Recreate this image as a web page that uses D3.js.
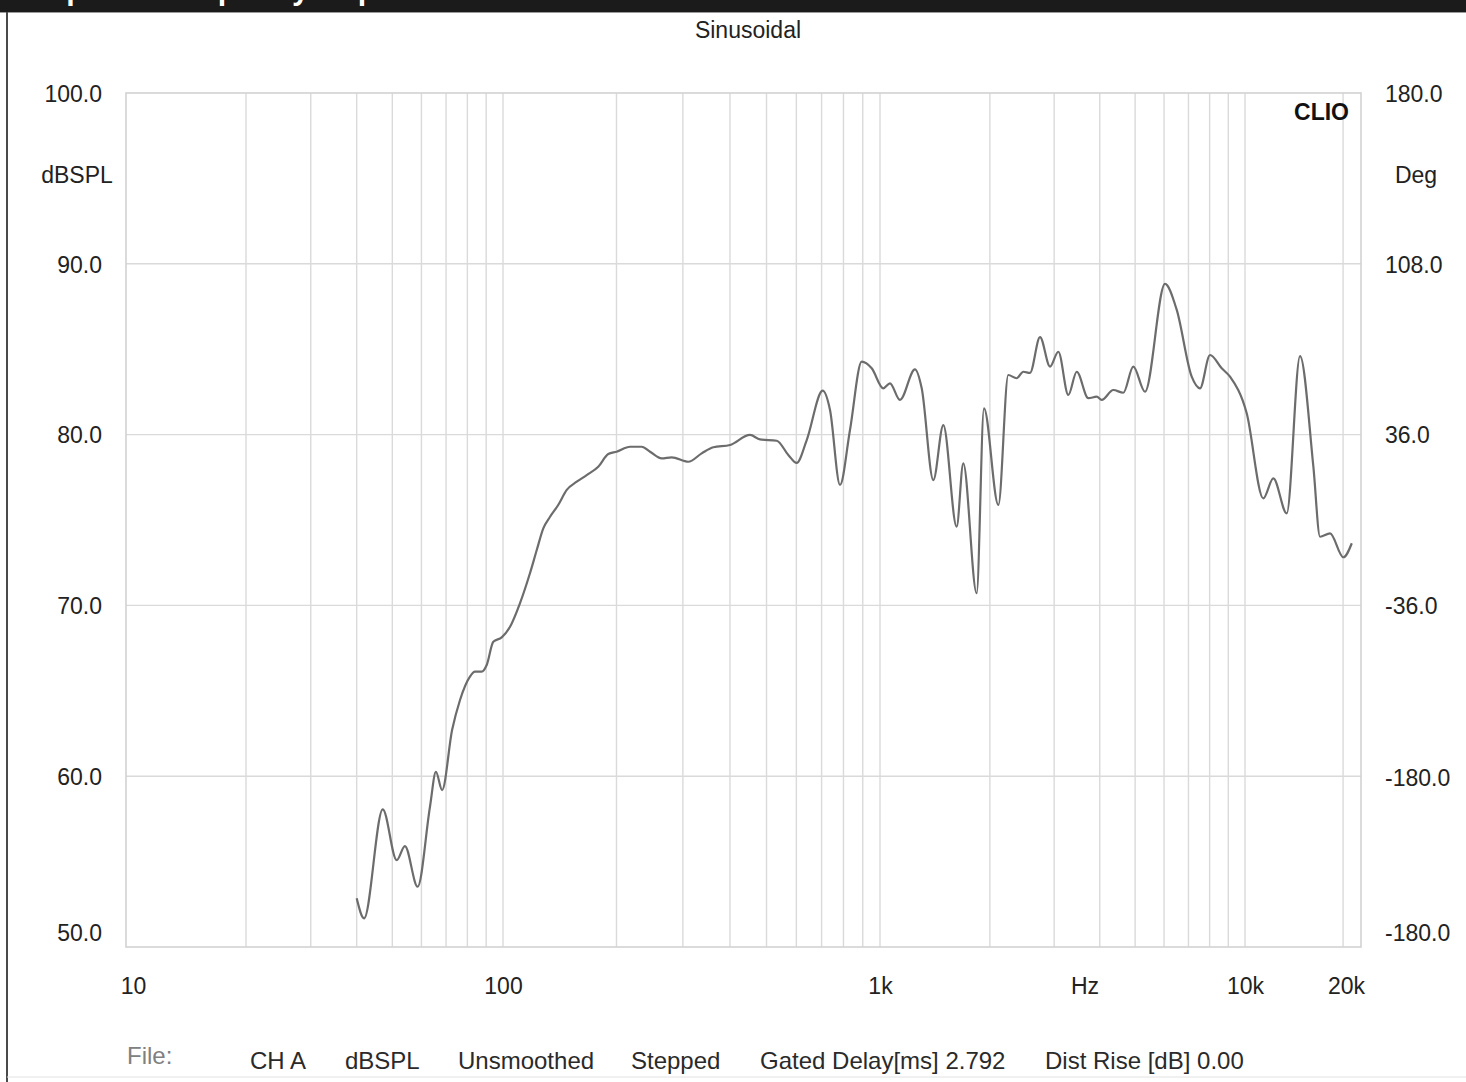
<!DOCTYPE html>
<html>
<head>
<meta charset="utf-8">
<script src="https://cdn.jsdelivr.net/npm/d3@7"></script>
<style>
  html, body { margin: 0; padding: 0; background: #fff; }
  svg { display: block; }
  text { font-family: "Liberation Sans", Arial, sans-serif; fill: #222; }
</style>
</head>
<body>
<svg id="chart" width="1466" height="1082"></svg>
<script>
// ---------------- data ----------------
const freqHz = [40.0, 41.9, 47.1, 51.4, 54.1, 58.6, 63.3, 65.7, 68.3, 72.7, 76.4, 81.3, 83.9, 87.5, 90.3, 94.1, 99.2,
  104.4, 110.9, 117.9, 122.9, 127.9, 133.3, 140.1, 147.6, 156.9, 166.7, 178.9, 190.2, 200.2, 217.3, 233.3, 245.5,
  263.6, 280.2, 310.1, 336.5, 361.3, 400.0, 452.0, 480.5, 532.1, 571.2, 601.2, 639.2, 704.7, 736.9, 783.3, 832.5,
  894.3, 950.6, 1021, 1065, 1134, 1247, 1301, 1400, 1491, 1622, 1691, 1840, 1927, 2110, 2246, 2368, 2470, 2576,
  2744, 2923, 3080, 3281, 3459, 3722, 3924, 4049, 4357, 4641, 4943, 5321, 6037, 6501, 7145, 7527, 8020, 8634,
  9098, 10121, 11382, 12217, 13429, 14753, 16212, 16995, 18241, 20044, 21270];
const splDb = [52.85, 51.68, 58.06, 55.09, 55.91, 53.53, 58.21, 60.25, 59.19, 62.70, 64.46, 65.83, 66.12, 66.12, 66.51, 67.87, 68.13,
  68.75, 70.12, 71.88, 73.24, 74.51, 75.19, 75.88, 76.76, 77.24, 77.63, 78.12, 78.86, 79.00, 79.29, 79.29, 79.00,
  78.61, 78.67, 78.41, 78.90, 79.26, 79.39, 79.98, 79.72, 79.64, 78.81, 78.34, 79.68, 82.57, 81.44, 77.05, 80.27,
  84.27, 83.88, 82.71, 83.00, 82.03, 83.82, 82.71, 77.34, 80.56, 74.61, 78.32, 70.71, 81.54, 75.88, 83.49, 83.30, 83.68, 83.61,
  85.71, 83.98, 84.85, 82.32, 83.68, 82.13, 82.22, 82.03, 82.61, 82.45, 83.98, 82.51, 88.82, 87.30, 83.39, 82.71, 84.66, 83.88,
  83.39, 81.25, 76.27, 77.44, 75.39, 84.60, 78.12, 74.02, 74.22, 72.82, 73.64];

const xTickValues = [10, 100, 1000, 10000, 20000];
const xTickLabels = ["10", "100", "1k", "10k", "20k"];
const yTickValues = [100, 90, 80, 70, 60, 50];
const yTickLabels = ["100.0", "90.0", "80.0", "70.0", "60.0", "50.0"];
const degTickLabels = ["180.0", "108.0", "36.0", "-36.0", "-180.0", "-180.0"];
const footerItems = ["File:", "CH A", "dBSPL", "Unsmoothed", "Stepped", "Gated Delay[ms] 2.792", "Dist Rise [dB] 0.00"];
const titleText = "Sinusoidal";
const headerText = "Speaker frequency response";
const brandText = "CLIO";
const leftUnit = "dBSPL";
const rightUnit = "Deg";
const xUnit = "Hz";

// ---------------- layout ----------------
const W = 1466, H = 1082;
const plot = { left: 126, right: 1361, top: 93, bottom: 947 };
const xDomainMax = 22700;
const footerX = [127, 250, 345, 458, 631, 760, 1045];

const svg = d3.select("#chart");

// header bar with cropped title (only the descenders show, as in the reference)
svg.append("rect").attr("x", 0).attr("y", 0).attr("width", W).attr("height", 12).attr("fill", "#1b1b1b");
svg.append("clipPath").attr("id", "hdrclip").append("rect").attr("x", 0).attr("y", 0).attr("width", W).attr("height", 12);
svg.append("text").attr("clip-path", "url(#hdrclip)")
  .attr("x", 51).attr("y", 0)
  .style("font-family", "'Open Sans', sans-serif").style("font-weight", "700")
  .style("font-size", "27.5px").style("fill", "#fff")
  .text(headerText);
svg.append("line").attr("x1", 0).attr("x2", W).attr("y1", 12.5).attr("y2", 12.5).attr("stroke", "#9a9a9a").attr("stroke-width", 1);
// page frame
svg.append("line").attr("x1", 7).attr("x2", 7).attr("y1", 12).attr("y2", H).attr("stroke", "#4a4a4a").attr("stroke-width", 2);
svg.append("line").attr("x1", 7).attr("x2", W).attr("y1", 1077).attr("y2", 1077).attr("stroke", "#e2e2e2").attr("stroke-width", 1);

// ---------------- scales ----------------
const x = d3.scaleLog()
  .domain([10, 20, 100, 1000, 10000, xDomainMax])
  .range([plot.left, 246, 503, 880, 1245, plot.right]);
const y = d3.scaleLinear().domain([50, 100]).range([plot.bottom, plot.top]);

// grid
const gridFreqs = [];
[10, 100, 1000].forEach(dec => { for (let m = 2; m <= 9; m++) gridFreqs.push(dec * m); });
gridFreqs.push(100, 1000, 10000, 20000);
const grid = svg.append("g");
grid.selectAll("line.v").data(gridFreqs).enter().append("line")
  .attr("x1", d => x(d)).attr("x2", d => x(d))
  .attr("y1", plot.top).attr("y2", plot.bottom)
  .attr("stroke", "#dadada").attr("stroke-width", 1.4);
grid.selectAll("line.h").data([60, 70, 80, 90]).enter().append("line")
  .attr("x1", plot.left).attr("x2", plot.right)
  .attr("y1", d => y(d)).attr("y2", d => y(d))
  .attr("stroke", "#dadada").attr("stroke-width", 1.4);
svg.append("rect")
  .attr("x", plot.left).attr("y", plot.top)
  .attr("width", plot.right - plot.left).attr("height", plot.bottom - plot.top)
  .attr("fill", "none").attr("stroke", "#d2d2d2").attr("stroke-width", 1.6);

// ---------------- axes ----------------
const fontPx = 23;
const xAxis = svg.append("g").attr("transform", `translate(0,${plot.bottom})`)
  .call(d3.axisBottom(x).tickValues(xTickValues).tickFormat((d, i) => xTickLabels[i]).tickSize(0).tickPadding(31));
xAxis.select(".domain").remove();
xAxis.selectAll("text").style("font-size", fontPx + "px").style("fill", "#222")
  .attr("dx", (d, i) => i === 0 ? 7 : (i === 4 ? 3 : 0));

const yAxisL = svg.append("g").attr("transform", `translate(${plot.left},0)`)
  .call(d3.axisLeft(y).tickValues(yTickValues).tickFormat((d, i) => yTickLabels[i]).tickSize(0).tickPadding(24));
yAxisL.select(".domain").remove();
yAxisL.selectAll("text").style("font-size", fontPx + "px").style("fill", "#222")
  .attr("y", d => d === 50 ? -14 : 1);

const yAxisR = svg.append("g").attr("transform", `translate(${plot.right},0)`)
  .call(d3.axisRight(y).tickValues(yTickValues).tickFormat((d, i) => degTickLabels[i]).tickSize(0).tickPadding(24));
yAxisR.select(".domain").remove();
yAxisR.selectAll("text").style("font-size", fontPx + "px").style("fill", "#222")
  .attr("y", d => d === 50 ? -14 : (d === 60 ? 2 : 1));

// unit labels
svg.append("text").attr("x", 77).attr("y", 183).attr("text-anchor", "middle").style("font-size", fontPx + "px").text(leftUnit);
svg.append("text").attr("x", 1416).attr("y", 183).attr("text-anchor", "middle").style("font-size", fontPx + "px").text(rightUnit);
svg.append("text").attr("x", 1085).attr("y", 994).attr("text-anchor", "middle").style("font-size", fontPx + "px").text(xUnit);
svg.append("text").attr("x", 748).attr("y", 38).attr("text-anchor", "middle").style("font-size", fontPx + "px").text(titleText);
svg.append("text").attr("x", 1349).attr("y", 120).attr("text-anchor", "end")
  .style("font-size", fontPx + "px").style("font-weight", "700").style("fill", "#111").text(brandText);

// ---------------- curve ----------------
const pts = freqHz.map((f, i) => ({ f, v: splDb[i] }));
const line = d3.line().x(d => x(d.f)).y(d => y(d.v)).curve(d3.curveMonotoneX);
svg.append("path").datum(pts)
  .attr("d", line)
  .attr("fill", "none").attr("stroke", "#6c6c6c").attr("stroke-width", 2.2)
  .attr("stroke-linejoin", "round");

// ---------------- footer ----------------
svg.append("g").selectAll("text").data(footerItems).enter().append("text")
  .attr("x", (d, i) => footerX[i])
  .attr("y", (d, i) => i === 0 ? 1064 : 1069)
  .style("font-size", "24px")
  .style("fill", (d, i) => i === 0 ? "#808080" : "#2a2a2a")
  .text(d => d);
</script>
</body>
</html>
